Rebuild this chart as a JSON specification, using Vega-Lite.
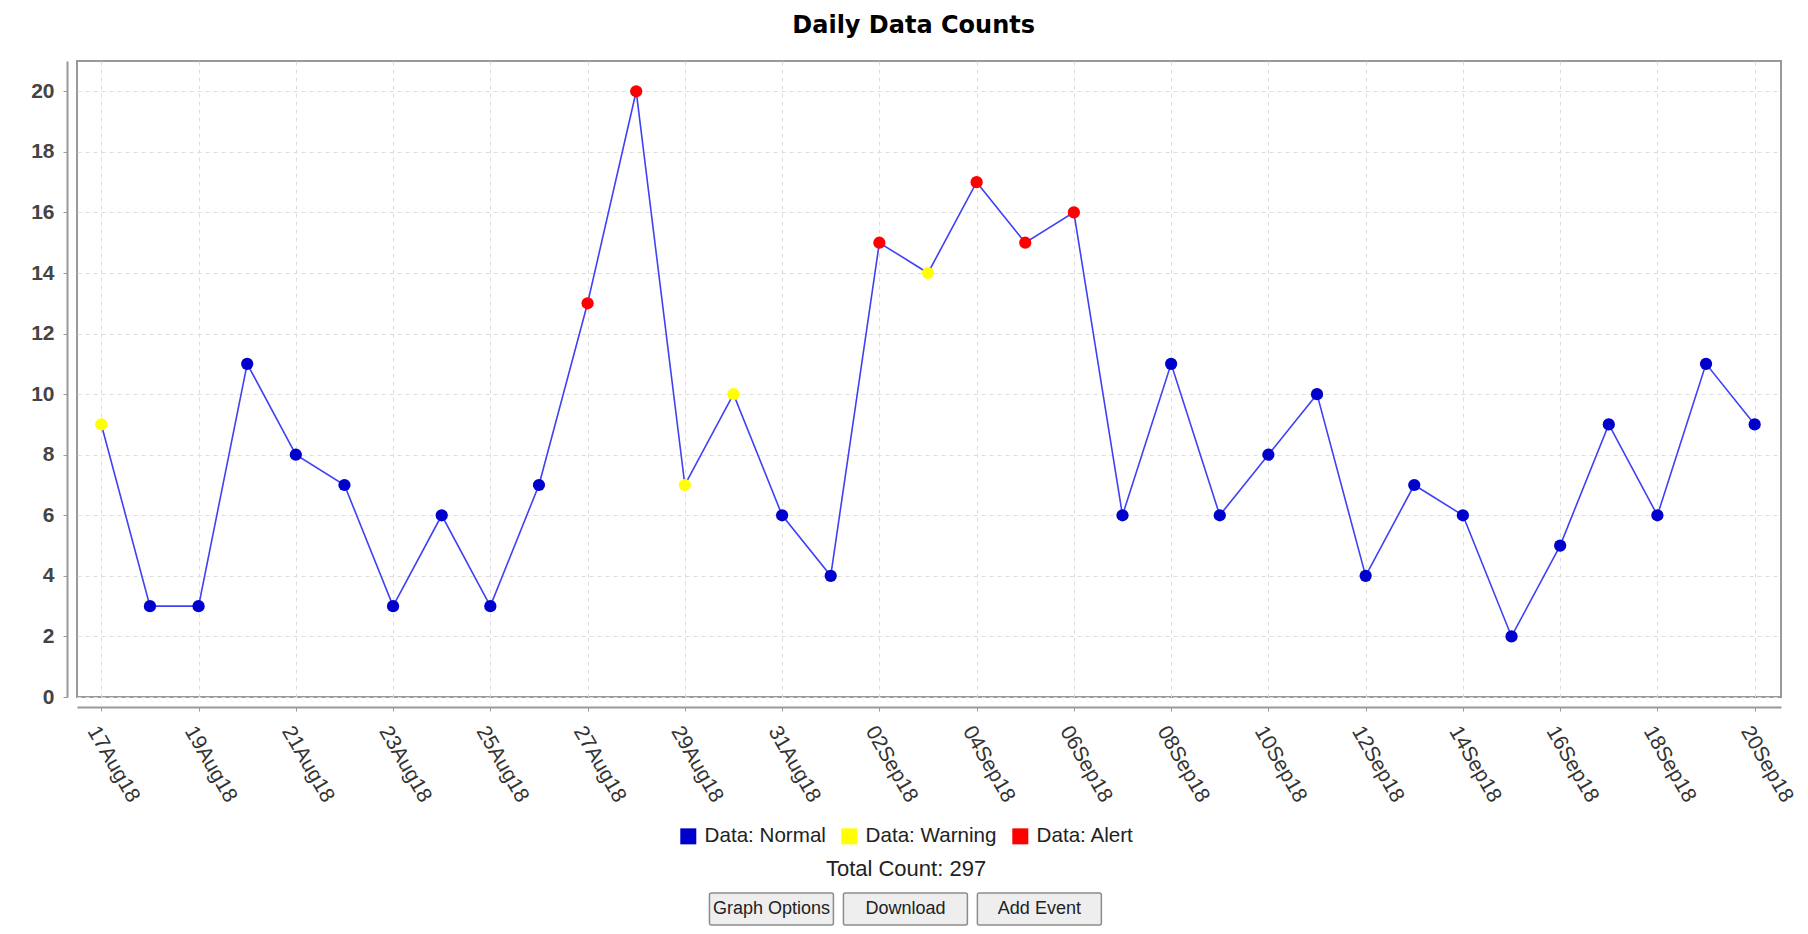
{
  "$schema": "https://vega.github.io/schema/vega-lite/v6.json",
  "background": "white",
  "padding": {"left": 29, "top": 14, "right": 10, "bottom": 5},
  "title": {"text": "Daily Data Counts", "fontSize": 24, "font": "DejaVu Sans", "fontWeight": "bold", "color": "#000000", "anchor": "middle", "offset": 22},
  "datasets": {
    "daily": [
      {"date": "2018-08-17T00:00:00", "count": 9, "status": "Warning"},
      {"date": "2018-08-18T00:00:00", "count": 3, "status": "Normal"},
      {"date": "2018-08-19T00:00:00", "count": 3, "status": "Normal"},
      {"date": "2018-08-20T00:00:00", "count": 11, "status": "Normal"},
      {"date": "2018-08-21T00:00:00", "count": 8, "status": "Normal"},
      {"date": "2018-08-22T00:00:00", "count": 7, "status": "Normal"},
      {"date": "2018-08-23T00:00:00", "count": 3, "status": "Normal"},
      {"date": "2018-08-24T00:00:00", "count": 6, "status": "Normal"},
      {"date": "2018-08-25T00:00:00", "count": 3, "status": "Normal"},
      {"date": "2018-08-26T00:00:00", "count": 7, "status": "Normal"},
      {"date": "2018-08-27T00:00:00", "count": 13, "status": "Alert"},
      {"date": "2018-08-28T00:00:00", "count": 20, "status": "Alert"},
      {"date": "2018-08-29T00:00:00", "count": 7, "status": "Warning"},
      {"date": "2018-08-30T00:00:00", "count": 10, "status": "Warning"},
      {"date": "2018-08-31T00:00:00", "count": 6, "status": "Normal"},
      {"date": "2018-09-01T00:00:00", "count": 4, "status": "Normal"},
      {"date": "2018-09-02T00:00:00", "count": 15, "status": "Alert"},
      {"date": "2018-09-03T00:00:00", "count": 14, "status": "Warning"},
      {"date": "2018-09-04T00:00:00", "count": 17, "status": "Alert"},
      {"date": "2018-09-05T00:00:00", "count": 15, "status": "Alert"},
      {"date": "2018-09-06T00:00:00", "count": 16, "status": "Alert"},
      {"date": "2018-09-07T00:00:00", "count": 6, "status": "Normal"},
      {"date": "2018-09-08T00:00:00", "count": 11, "status": "Normal"},
      {"date": "2018-09-09T00:00:00", "count": 6, "status": "Normal"},
      {"date": "2018-09-10T00:00:00", "count": 8, "status": "Normal"},
      {"date": "2018-09-11T00:00:00", "count": 10, "status": "Normal"},
      {"date": "2018-09-12T00:00:00", "count": 4, "status": "Normal"},
      {"date": "2018-09-13T00:00:00", "count": 7, "status": "Normal"},
      {"date": "2018-09-14T00:00:00", "count": 6, "status": "Normal"},
      {"date": "2018-09-15T00:00:00", "count": 2, "status": "Normal"},
      {"date": "2018-09-16T00:00:00", "count": 5, "status": "Normal"},
      {"date": "2018-09-17T00:00:00", "count": 9, "status": "Normal"},
      {"date": "2018-09-18T00:00:00", "count": 6, "status": "Normal"},
      {"date": "2018-09-19T00:00:00", "count": 11, "status": "Normal"},
      {"date": "2018-09-20T00:00:00", "count": 9, "status": "Normal"}
    ],
    "buttons": [
      {"button": "Graph Options"},
      {"button": "Download"},
      {"button": "Add Event"}
    ]
  },
  "spacing": 196,
  "bounds": "flush",
  "center": true,
  "resolve": {"legend": {"color": "independent"}},
  "vconcat": [
    {
      "width": 1704,
      "height": 636,
      "view": {"stroke": "#999999", "strokeWidth": 2},
      "data": {"name": "daily"},
      "encoding": {
        "x": {
          "field": "date",
          "type": "temporal",
          "title": null,
          "scale": {"domain": [{"year": 2018, "month": 8, "date": 16, "hours": 12}, {"year": 2018, "month": 9, "date": 20, "hours": 13}]},
          "axis": {
            "values": [
              {"year": 2018, "month": 8, "date": 17},
              {"year": 2018, "month": 8, "date": 19},
              {"year": 2018, "month": 8, "date": 21},
              {"year": 2018, "month": 8, "date": 23},
              {"year": 2018, "month": 8, "date": 25},
              {"year": 2018, "month": 8, "date": 27},
              {"year": 2018, "month": 8, "date": 29},
              {"year": 2018, "month": 8, "date": 31},
              {"year": 2018, "month": 9, "date": 2},
              {"year": 2018, "month": 9, "date": 4},
              {"year": 2018, "month": 9, "date": 6},
              {"year": 2018, "month": 9, "date": 8},
              {"year": 2018, "month": 9, "date": 10},
              {"year": 2018, "month": 9, "date": 12},
              {"year": 2018, "month": 9, "date": 14},
              {"year": 2018, "month": 9, "date": 16},
              {"year": 2018, "month": 9, "date": 18},
              {"year": 2018, "month": 9, "date": 20}
            ],
            "format": "%d%b%y",
            "labelAngle": 60,
            "labelAlign": "left",
            "labelBaseline": "top",
            "labelFont": "Liberation Sans",
            "labelFontSize": 21,
            "labelColor": "#333333",
            "labelPadding": 11,
            "labelOverlap": false,
            "labelFlush": false,
            "offset": 10,
            "tickSize": 4,
            "tickColor": "#999999",
            "domainColor": "#999999",
            "domainWidth": 2,
            "grid": true,
            "gridDash": [4, 4],
            "gridColor": "#dddddd"
          }
        },
        "y": {
          "field": "count",
          "type": "quantitative",
          "title": null,
          "scale": {"domain": [0, 21], "nice": false},
          "axis": {
            "values": [0, 2, 4, 6, 8, 10, 12, 14, 16, 18, 20],
            "labelFont": "Liberation Sans",
            "labelFontWeight": "bold",
            "labelFontSize": 21,
            "labelColor": "#444444",
            "labelPadding": 9,
            "offset": 10,
            "tickSize": 4,
            "tickColor": "#999999",
            "domainColor": "#999999",
            "domainWidth": 2,
            "grid": true,
            "gridDash": [4, 4],
            "gridColor": "#dddddd"
          }
        }
      },
      "layer": [
        {"mark": {"type": "line", "color": "#4040f5", "strokeWidth": 1.6}},
        {
          "mark": {"type": "point", "filled": true, "size": 150, "opacity": 1},
          "encoding": {
            "color": {
              "field": "status",
              "type": "nominal",
              "scale": {"domain": ["Normal", "Warning", "Alert"], "range": ["#0000cc", "#ffff00", "#ff0000"]},
              "legend": {
                "orient": "none",
                "legendX": 601,
                "legendY": 765,
                "direction": "horizontal",
                "title": "Total Count: 297",
                "titleOrient": "bottom",
                "titleAnchor": "middle",
                "titleFont": "Liberation Sans",
                "titleFontSize": 22,
                "titleFontWeight": "normal",
                "titleColor": "#222222",
                "titlePadding": 12,
                "labelExpr": "'Data: ' + datum.label",
                "labelFont": "Liberation Sans",
                "labelFontSize": 20.6,
                "labelColor": "#222222",
                "labelOffset": 6,
                "symbolType": "square",
                "symbolSize": 256,
                "symbolStrokeWidth": 0,
                "symbolOpacity": 1,
                "columnPadding": 13
              }
            }
          }
        }
      ]
    },
    {
      "width": 468,
      "height": 32,
      "view": {"stroke": null},
      "data": {"name": "buttons"},
      "encoding": {
        "x": {"field": "button", "type": "nominal", "sort": null, "axis": null, "scale": {"paddingInner": 0.0746, "paddingOuter": 0.284, "align": 0.19}}
      },
      "layer": [
        {"mark": {"type": "rect", "fill": "#eeeeee", "stroke": "#8c8c8c", "strokeWidth": 1.5, "cornerRadius": 2}},
        {"mark": {"type": "text", "font": "Liberation Sans", "fontSize": 18, "color": "#222222"}, "encoding": {"text": {"field": "button"}}}
      ]
    }
  ]
}
